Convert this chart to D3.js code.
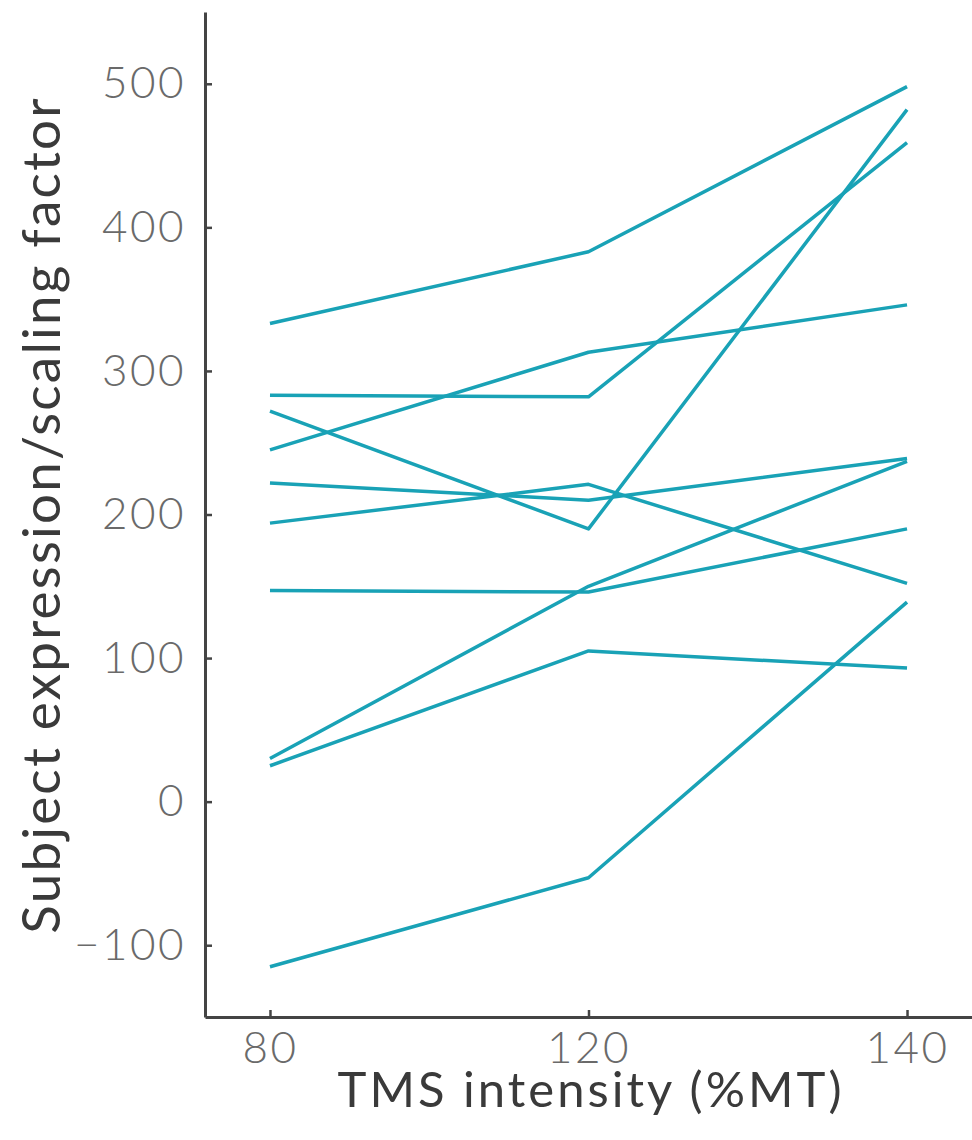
<!DOCTYPE html>
<html>
<head>
<meta charset="utf-8">
<script src="https://cdn.jsdelivr.net/npm/d3@7"></script>
<style>
  body { margin: 0; background: #fff; }
  svg { display: block; }
</style>
</head>
<body>
<svg id="chart"></svg>
<script>
// x categories (TMS intensity, equally spaced in the figure)
const xCats = ['80', '120', '140']
const yTicks = [-100, 0, 100, 200, 300, 400, 500]

// one array per subject: value at 80, 120, 140 %MT
const subj1 = [333, 383, 498]
const subj2 = [283, 282, 459]
const subj3 = [272, 190, 482]
const subj4 = [245, 313, 346]
const subj5 = [222, 210, 239]
const subj6 = [194, 221, 152]
const subj7 = [147, 146, 190]
const subj8 = [30, 150, 237]
const subj9 = [25, 105, 93]
const subj10 = [-115, -53, 139]

const subjects = [subj1, subj2, subj3, subj4, subj5, subj6, subj7, subj8, subj9, subj10]

let width = 972
let height = 1140
let padLeft = 205
let padTop = 12
let axisY = 1017

let svg = d3.select('#chart')
  .attr('width', width)
  .attr('height', height)

let xScale = d3.scalePoint()
  .domain(xCats)
  .range([padLeft, width])
  .padding(0.204)

let yScale = d3.scaleLinear()
  .domain([-150, 550])
  .range([axisY, padTop])

let fontFam = 'Lato, "Open Sans", sans-serif'

// lines
let line = d3.line()
  .x((d, i) => xScale(xCats[i]))
  .y(d => yScale(d))

svg.append('g')
  .selectAll('path')
  .data(subjects)
  .enter()
  .append('path')
  .attr('d', d => line(d))
  .attr('fill', 'none')
  .attr('stroke', '#19a2b6')
  .attr('stroke-width', 3.5)
  .attr('stroke-linejoin', 'round')

// axes
let xAxis = d3.axisBottom(xScale).tickSize(-7).tickSizeOuter(0).tickPadding(15)
svg.append('g')
  .attr('class', 'x-axis')
  .attr('transform', 'translate(0,' + axisY + ')')
  .call(xAxis)

let yAxis = d3.axisLeft(yScale).tickValues(yTicks).tickSize(-7).tickSizeOuter(0).tickPadding(19)
  .tickFormat(d => d < 0 ? '\u2212' + Math.abs(d) : d)
svg.append('g')
  .attr('transform', 'translate(' + padLeft + ',0)')
  .call(yAxis)

svg.selectAll('.domain').attr('stroke', '#444').attr('stroke-width', 3)
svg.selectAll('.tick line').attr('stroke', '#444').attr('stroke-width', 2.5)
svg.selectAll('.tick text')
  .attr('fill', '#6a6a6a')
  .style('font-family', fontFam)
  .style('font-weight', 300)
  .style('font-size', '44px')
  .style('letter-spacing', '2.5px')

// axis titles
svg.append('text')
  .attr('x', 591)
  .attr('y', 1107)
  .attr('text-anchor', 'middle')
  .attr('fill', '#3a3a3a')
  .style('font-family', fontFam)
  .style('font-size', '49px')
  .style('letter-spacing', '3px')
  .text('TMS intensity (%MT)')

svg.append('text')
  .attr('transform', 'translate(60,515) rotate(-90)')
  .attr('text-anchor', 'middle')
  .attr('fill', '#3a3a3a')
  .style('font-family', fontFam)
  .style('font-size', '53px')
  .style('letter-spacing', '2.2px')
  .text('Subject expression/scaling factor')
</script>
</body>
</html>
